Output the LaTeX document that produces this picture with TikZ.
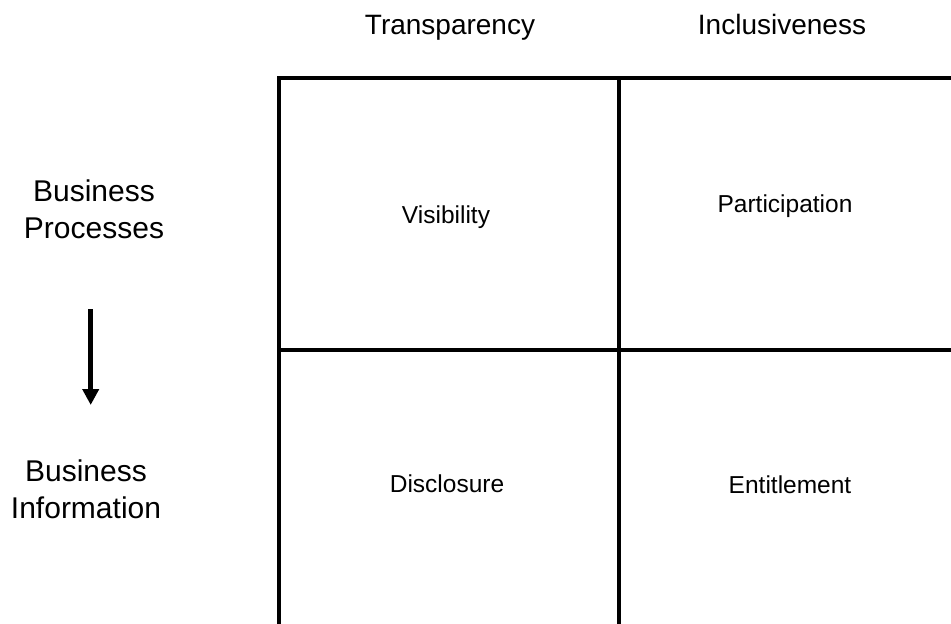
\documentclass[tikz,border=0pt]{standalone}
\usepackage{fontspec}
\setmainfont{Liberation Sans}
\usetikzlibrary{arrows.meta}

\tikzset{
  gridline/.style={line width=4pt, black},
  headlabel/.style={font=\fontsize{28}{32}\selectfont, anchor=base, inner sep=0pt},
  sidelabel/.style={font=\fontsize{30}{36.5}\selectfont, align=center, anchor=base, inner sep=0pt},
  celllabel/.style={font=\fontsize{24.5}{28}\selectfont, anchor=base, inner sep=0pt},
  flowarrow/.style={line width=5pt, -{Triangle[length=16pt, width=16pt]}}
}

\begin{document}
\begin{tikzpicture}[x=1pt, y=-1pt]
  \useasboundingbox (0,0) rectangle (951,624);

  % grid corners
  \coordinate (tl) at (279,78);
  \coordinate (tm) at (619,78);
  \coordinate (tr) at (953,78);
  \coordinate (ml) at (279,350);
  \coordinate (mr) at (953,350);
  \coordinate (bl) at (279,626);
  \coordinate (bm) at (619,626);

  % the 2x2 matrix
  \draw[gridline, line join=miter] (bl) -- (tl) -- (tr);
  \draw[gridline] (tm) -- (bm);
  \draw[gridline] (ml) -- (mr);

  % column headings
  \node[headlabel] (transp) at (450,34) {Transparency};
  \node[headlabel] (incl) at (782,34) {Inclusiveness};

  % row headings (base anchor sits on the last line)
  \node[sidelabel] (procs) at (94,238.2) {Business\\Processes};
  \node[sidelabel] (info) at (86,518.2) {Business\\Information};

  % cell labels
  \node[celllabel] (vis) at (446,223) {Visibility};
  \node[celllabel] (part) at (785,212.3) {Participation};
  \node[celllabel] (disc) at (447,492.7) {Disclosure};
  \node[celllabel] (ent) at (790,493.5) {Entitlement};

  % downward arrow between the row headings
  \coordinate (arrtop) at (90.7,309);
  \coordinate (arrtip) at (90.7,405);
  \draw[flowarrow] (arrtop) -- (arrtip);
\end{tikzpicture}
\end{document}
